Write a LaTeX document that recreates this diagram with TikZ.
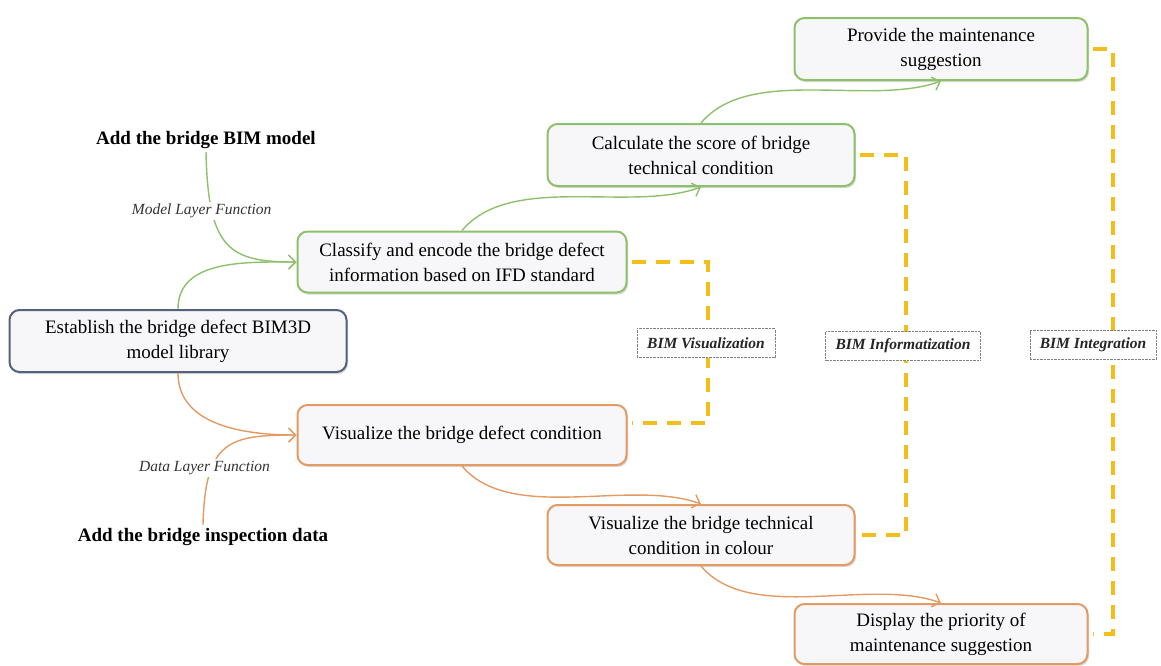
\documentclass[tikz,border=0pt]{standalone}
\usepackage{fontspec}
\setmainfont{Liberation Serif}
\usetikzlibrary{arrows.meta,shadows}
\definecolor{boxgreen}{HTML}{8DC06B}
\definecolor{boxorange}{HTML}{E49A63}
\definecolor{boxblue}{HTML}{55627E}
\definecolor{boxfill}{HTML}{F7F7F9}
\definecolor{dashyellow}{HTML}{F2BE1A}
\begin{document}
\begin{tikzpicture}[x=1pt, y=1pt,
    box/.style={draw, line width=2pt, rounded corners=10pt, fill=boxfill,
        align=center, font=\fontsize{19}{25}\selectfont, inner sep=3pt,
        drop shadow={opacity=0.3, shadow xshift=1.5pt, shadow yshift=-2pt}},
    greenbox/.style={box, draw=boxgreen},
    orangebox/.style={box, draw=boxorange},
    bluebox/.style={box, draw=boxblue},
    addlab/.style={font=\fontsize{19}{22}\selectfont\bfseries},
    layerlab/.style={font=\fontsize{15.5}{17}\selectfont\itshape, text=black!80,
        fill=white, inner sep=2pt},
    bimlab/.style={draw=gray, densely dotted, fill=white, text=black!85,
        font=\fontsize{15.5}{18}\selectfont\bfseries\itshape,
        minimum height=29, inner xsep=10pt},
    flow/.style={line width=1.4pt, -{Straight Barb[length=7pt,width=14pt]}},
    bimline/.style={dashyellow, line width=4pt, dash pattern=on 14pt off 10pt,
        shorten <=4pt, shorten >=4pt}
]
    % 画布范围
    \useasboundingbox (0,0) rectangle (1161,-665);

    % 左侧：模型库与两个输入
    \node[bluebox, minimum width=337, minimum height=62] (establish) at (178,-341)
        {Establish the bridge defect BIM3D\\model library};
    \node[addlab] (addbim) at (206,-140) {Add the bridge BIM model};
    \node[addlab] (addinsp) at (203,-537) {Add the bridge inspection data};

    % 绿色一支（模型层）
    \node[greenbox, minimum width=329, minimum height=61] (classify) at (462,-262)
        {Classify and encode the bridge defect\\information based on IFD standard};
    \node[greenbox, minimum width=307, minimum height=62] (calc) at (701,-155)
        {Calculate the score of bridge\\technical condition};
    \node[greenbox, minimum width=293, minimum height=62] (provide) at (941,-49)
        {Provide the maintenance\\suggestion};

    % 橙色一支（数据层）
    \node[orangebox, minimum width=329, minimum height=60] (visdef) at (462,-435)
        {Visualize the bridge defect condition};
    \node[orangebox, minimum width=307, minimum height=60] (viscol) at (701,-535)
        {Visualize the bridge technical\\condition in colour};
    \node[orangebox, minimum width=293, minimum height=60] (display) at (941,-634)
        {Display the priority of\\maintenance suggestion};

    % 绿色连线
    \draw[flow, boxgreen] (addbim.south) .. controls (208,-250) and (230,-262) ..
        node[pos=0.25, xshift=-10, layerlab] {Model Layer Function} (classify.west);
    \draw[flow, boxgreen] (establish.north) to[out=90, in=180] (classify.west);
    \draw[flow, boxgreen] (classify.north) to[out=50, in=-160, looseness=0.8] (calc.south);
    \draw[flow, boxgreen] (calc.north) to[out=50, in=-160, looseness=0.8] (provide.south);

    % 橙色连线
    \draw[flow, boxorange] (addinsp.north) .. controls (205,-440) and (230,-435) ..
        node[pos=0.3, xshift=-7, layerlab] {Data Layer Function} (visdef.west);
    \draw[flow, boxorange] (establish.south) to[out=-90, in=180] (visdef.west);
    \draw[flow, boxorange] (visdef.south) to[out=-50, in=160, looseness=0.8] (viscol.north);
    \draw[flow, boxorange] (viscol.south) to[out=-50, in=160, looseness=0.8] (display.north);

    % 黄色虚线括号（最后画，标签盖在上面）
    \draw[bimline] (classify.east) -- ++(80,0) |- ([yshift=12]visdef.east);
    \draw[bimline] (calc.east) -- ++(50,0) |- (viscol.east);
    \draw[bimline] (provide.east) -- ++(24,0) |- (display.east);

    % 三个 BIM 标签
    \node[bimlab] (vislab) at (706,-343) {BIM Visualization};
    \node[bimlab] (infolab) at (903,-346) {BIM Informatization};
    \node[bimlab] (intlab) at (1093,-345) {BIM Integration};

\end{tikzpicture}
\end{document}
